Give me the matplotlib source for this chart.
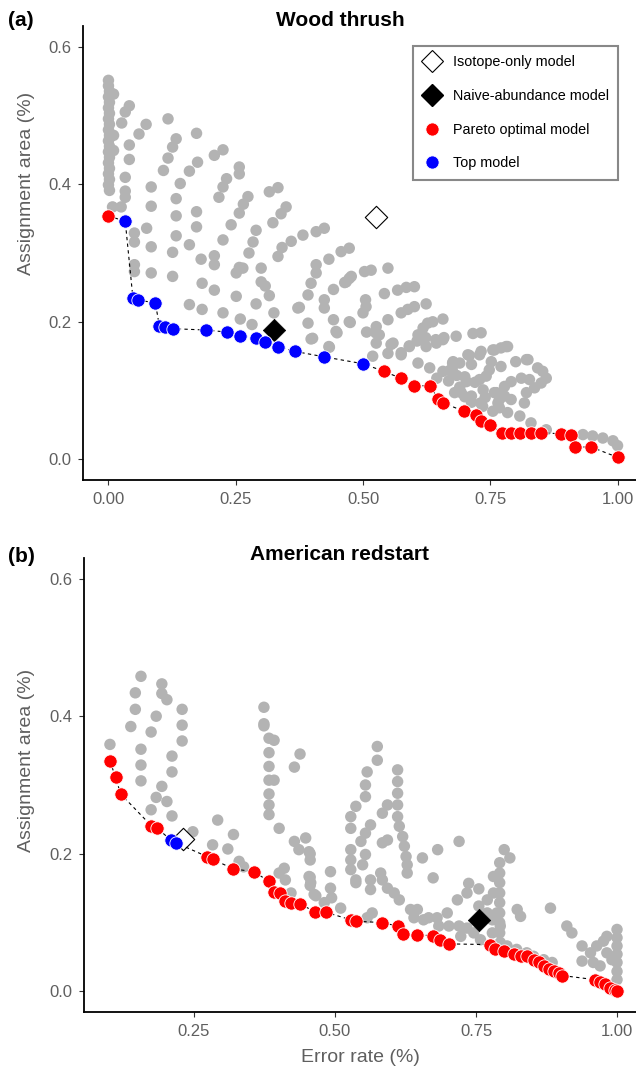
import matplotlib
matplotlib.use("Agg")
import matplotlib.pyplot as plt
from matplotlib.lines import Line2D
import numpy as np

plt.rcParams['font.family'] = ['Liberation Sans', 'DejaVu Sans']

# ---------------- Panel (a) Wood thrush ----------------
a_gray_x = [0.000,0.000,0.002,0.000,0.002,0.000,0.002,0.000,0.002,0.000,0.002,0.000,0.002,0.000,0.002,0.000,0.002,0.000,0.002,0.000,0.002,
    0.010,0.010,0.010,0.008,0.025,0.033,0.033,
    0.041,0.033,0.026,0.074,0.060,0.117,0.173,0.133,0.126,0.041,0.041,0.117,0.108,0.159,0.175,0.208,0.225,0.257,0.257,0.033,0.084,0.141,0.232,0.225,0.217,0.316,0.333,0.084,0.133,0.133,0.173,0.274,0.265,0.257,0.349,0.339,0.323,0.241,0.290,0.284,0.382,0.359,0.341,0.333,0.051,0.051,0.075,0.084,0.133,0.173,0.159,0.126,0.225,0.208,0.182,0.276,0.300,0.257,0.251,0.051,0.051,0.084,0.126,0.184,0.208,0.208,0.159,0.184,0.225,0.264,0.251,0.259,0.300,0.308,0.316,0.290,0.325,0.282,0.372,0.392,0.392,0.401,0.398,0.408,0.408,0.433,0.424,0.424,0.442,0.442,0.447,0.434,0.467,0.477,0.473,0.503,0.516,0.505,0.506,0.500,0.525,0.519,
    0.408,0.424,0.457,0.473,0.549,0.473,0.464,0.375,0.398,0.449,0.433,0.475,0.542,0.568,0.585,0.601,0.549,0.575,0.588,0.601,0.624,0.507,0.526,0.532,0.526,0.559,0.549,0.575,0.591,0.608,0.618,0.627,0.637,0.657,0.611,0.624,0.644,0.657,0.683,0.716,0.732,0.732,0.755,0.677,0.706,0.713,
    0.555,0.575,0.591,0.606,0.623,0.643,0.659,0.709,0.729,0.781,0.821,
    0.677,0.690,0.608,0.631,0.657,0.670,0.684,0.700,0.720,0.645,0.668,0.690,0.680,0.700,0.740,0.762,0.736,0.713,0.731,
    0.752,0.748,0.742,0.771,0.800,0.824,0.843,0.853,0.860,0.850,0.837,0.821,0.817,0.827,0.811,0.791,0.778,0.778,0.758,0.765,0.729,0.703,0.676,0.676,0.693,0.713,0.735,0.755,0.768,0.784,0.808,0.791,0.768,0.830,0.860,0.932,0.951,0.971,0.991,1.000,
    0.771,0.784,0.758]
a_gray_y = [0.551,0.543,0.535,0.527,0.519,0.511,0.503,0.495,0.487,0.479,0.471,0.463,0.455,0.447,0.439,0.431,0.423,0.415,0.407,0.399,0.391,
    0.531,0.471,0.449,0.367,0.367,0.381,0.390,
    0.514,0.505,0.489,0.487,0.473,0.495,0.474,0.466,0.454,0.457,0.436,0.438,0.420,0.419,0.432,0.442,0.450,0.425,0.415,0.410,0.396,0.401,0.408,0.396,0.381,0.389,0.395,0.368,0.379,0.354,0.360,0.382,0.371,0.358,0.367,0.357,0.344,0.341,0.333,0.316,0.326,0.317,0.308,0.295,0.329,0.316,0.336,0.309,0.325,0.338,0.312,0.301,0.319,0.296,0.291,0.300,0.278,0.279,0.271,0.283,0.273,0.271,0.266,0.256,0.246,0.283,0.225,0.218,0.213,0.278,0.237,0.204,0.258,0.252,0.238,0.226,0.213,0.196,0.220,0.239,0.198,0.176,0.256,0.271,0.283,0.291,0.232,0.220,0.247,0.203,0.186,0.163,0.258,0.266,0.200,0.273,0.275,0.232,0.222,0.213,0.184,0.150,
    0.331,0.336,0.302,0.307,0.278,0.263,0.257,0.221,0.175,0.184,0.164,0.199,0.241,0.246,0.250,0.251,0.203,0.213,0.218,0.222,0.226,0.185,0.193,0.181,0.169,0.169,0.154,0.152,0.164,0.181,0.191,0.198,0.200,0.204,0.174,0.164,0.169,0.174,0.179,0.183,0.184,0.157,0.159,0.142,0.152,0.138,
    0.167,0.155,0.165,0.172,0.177,0.174,0.177,0.151,0.152,0.164,0.145,
    0.137,0.140,0.140,0.133,0.128,0.129,0.122,0.120,0.112,0.118,0.114,0.105,0.097,0.091,0.090,0.097,0.101,0.083,0.082,
    0.142,0.130,0.121,0.135,0.142,0.145,0.133,0.128,0.118,0.111,0.104,0.097,0.082,0.116,0.118,0.113,0.106,0.092,0.097,0.082,0.116,0.113,0.140,0.128,0.097,0.092,0.077,0.070,0.075,0.068,0.063,0.087,0.087,0.053,0.043,0.036,0.034,0.031,0.027,0.020,
    0.162,0.164,0.159]

a_pareto_x = [0.000,0.541,0.574,0.601,0.631,0.648,0.658,0.698,0.722,0.732,0.750,0.773,0.791,0.808,0.830,0.849,0.889,0.909,0.916,0.948,1.000]
a_pareto_y = [0.354,0.128,0.118,0.107,0.107,0.088,0.082,0.070,0.064,0.056,0.050,0.039,0.039,0.039,0.039,0.039,0.037,0.036,0.018,0.018,0.003]
a_top_x = [0.033,0.048,0.059,0.092,0.100,0.112,0.126,0.192,0.233,0.259,0.290,0.308,0.333,0.366,0.424,0.500]
a_top_y = [0.346,0.235,0.231,0.228,0.194,0.192,0.190,0.188,0.185,0.180,0.176,0.171,0.164,0.157,0.149,0.139]
a_isotope = (0.525, 0.353)
a_naive = (0.326, 0.188)

# ---------------- Panel (b) American redstart ----------------
b_gray_x = [0.101,0.156,0.146,0.146,0.138,0.156,0.156,0.156,0.193,0.193,0.202,0.183,0.174,0.229,0.229,0.229,0.211,0.211,0.193,0.183,0.202,0.174,0.211,
    0.374,0.374,0.374,0.383,0.392,0.383,0.383,0.383,0.392,0.383,0.383,0.383,0.438,0.428,0.292,0.248,0.283,0.310,0.320,0.330,0.338,0.401,0.428,0.448,0.436,0.456,0.456,0.401,0.410,0.412,0.422,0.456,0.456,0.466,0.492,0.492,0.494,0.481,0.510,
    0.528,0.528,0.537,0.528,0.528,0.528,0.537,0.546,0.454,0.454,0.457,0.463,
    0.554,0.554,0.557,0.575,0.575,0.537,0.554,0.563,0.554,0.549,0.584,0.593,0.584,0.593,0.563,0.563,0.581,0.584,
    0.611,0.611,0.611,0.611,0.611,0.614,0.620,0.623,0.626,0.628,0.628,0.593,0.605,0.614,
    0.634,0.646,0.640,0.657,0.666,0.681,0.699,0.684,0.702,0.720,0.734,0.723,0.746,0.758,
    0.655,0.674,0.682,0.720,0.717,0.737,0.755,0.734,0.755,0.770,0.781,0.770,0.779,0.787,0.793,0.779,
    0.792,0.792,0.792,0.792,0.792,0.792,0.792,0.792,0.800,0.810,0.781,
    0.793,0.805,0.822,0.840,0.852,0.870,0.885,
    0.823,0.829,0.882,0.911,0.920,0.938,0.938,0.953,0.964,0.976,0.982,0.958,0.970,
    1.000,1.000,1.000,1.000,1.000,1.000,1.000,0.982,0.991,
    0.557,0.566]
b_gray_y = [0.359,0.458,0.434,0.410,0.385,0.352,0.329,0.306,0.447,0.433,0.424,0.400,0.377,0.410,0.387,0.364,0.342,0.319,0.298,0.282,0.276,0.264,0.255,
    0.413,0.389,0.386,0.368,0.365,0.347,0.327,0.307,0.307,0.287,0.271,0.257,0.345,0.326,0.249,0.232,0.213,0.207,0.228,0.189,0.181,0.237,0.218,0.223,0.206,0.200,0.191,0.172,0.179,0.162,0.143,0.166,0.154,0.139,0.174,0.150,0.136,0.129,0.121,
    0.254,0.237,0.269,0.206,0.191,0.177,0.162,0.218,0.203,0.167,0.158,0.141,
    0.283,0.300,0.319,0.356,0.336,0.158,0.230,0.242,0.199,0.184,0.259,0.271,0.216,0.220,0.162,0.148,0.172,0.162,
    0.322,0.305,0.288,0.271,0.254,0.240,0.225,0.211,0.196,0.184,0.172,0.150,0.143,0.133,
    0.119,0.119,0.107,0.104,0.107,0.107,0.114,0.095,0.095,0.095,0.092,0.080,0.085,0.075,
    0.194,0.165,0.206,0.218,0.133,0.157,0.149,0.143,0.124,0.133,0.143,0.114,0.104,0.114,0.095,0.085,
    0.187,0.172,0.158,0.143,0.129,0.114,0.100,0.085,0.206,0.194,0.167,
    0.071,0.066,0.061,0.056,0.051,0.046,0.042,
    0.119,0.109,0.121,0.095,0.085,0.066,0.044,0.056,0.066,0.073,0.080,0.042,0.037,
    0.090,0.078,0.066,0.054,0.042,0.029,0.017,0.056,0.046,
    0.107,0.114]

b_pareto_x = [0.101,0.111,0.120,0.174,0.185,0.273,0.283,0.320,0.356,0.383,0.392,0.403,0.411,0.422,0.438,0.464,0.484,0.528,0.537,0.583,0.611,0.621,0.646,0.674,0.687,0.702,0.774,0.784,0.799,0.817,0.829,0.841,0.852,0.861,0.870,0.879,0.888,0.897,0.903,0.961,0.970,0.979,0.988,0.997,1.000]
b_pareto_y = [0.335,0.311,0.287,0.241,0.237,0.196,0.192,0.178,0.174,0.160,0.145,0.143,0.131,0.129,0.127,0.116,0.115,0.104,0.102,0.100,0.095,0.084,0.082,0.081,0.074,0.069,0.068,0.062,0.058,0.054,0.052,0.051,0.046,0.042,0.037,0.033,0.029,0.026,0.023,0.017,0.013,0.010,0.005,0.002,0.000]
b_top_x = [0.209,0.218]
b_top_y = [0.220,0.216]
b_isotope = (0.230, 0.222)
b_naive = (0.756, 0.104)

x_ticks_a = [0.0, 0.25, 0.5, 0.75, 1.0]
x_ticklabels_a = ["0.00", "0.25", "0.50", "0.75", "1.00"]
x_ticks_b = [0.25, 0.5, 0.75, 1.0]
x_ticklabels_b = ["0.25", "0.50", "0.75", "1.00"]
y_ticks = [0.0, 0.2, 0.4, 0.6]
y_ticklabels = ["0.0", "0.2", "0.4", "0.6"]

GRAY = '#b3b3b3'
TXT = '#5f5f5f'

W, H = 636, 1077
fig = plt.figure(figsize=(W/100, H/100), dpi=100)

def px_axes(left, top, right, bottom):
    return fig.add_axes([left/W, 1-bottom/H, (right-left)/W, (bottom-top)/H])

ax_a = px_axes(83, 26, 643, 480)
ax_b = px_axes(84, 558, 642.4, 1012)

def draw(ax, gx, gy, px_, py_, tx, ty, iso, naive, xlim, xt, xtl):
    ax.scatter(gx, gy, s=68, c=GRAY, edgecolors='none', zorder=2)
    ax.scatter([iso[0]], [iso[1]], marker='D', s=130, facecolors='white',
               edgecolors='black', linewidths=0.8, zorder=3)
    ax.scatter([naive[0]], [naive[1]], marker='D', s=130, c='black',
               edgecolors='black', linewidths=0.5, zorder=3)
    fx = np.array(list(px_) + list(tx))
    fy = np.array(list(py_) + list(ty))
    order = np.argsort(fx, kind='stable')
    ax.plot(fx[order], fy[order], ls=(0, (3, 3)), color='black', lw=0.8, zorder=4)
    ax.scatter(px_, py_, s=92, c='#ff0000', edgecolors='white', linewidths=0.6, zorder=5)
    ax.scatter(tx, ty, s=92, c='#0000ff', edgecolors='white', linewidths=0.6, zorder=6)
    ax.set_xlim(*xlim)
    ax.set_ylim(-0.03, 0.63)
    ax.set_xticks(xt)
    ax.set_xticklabels(xtl)
    ax.set_yticks(y_ticks)
    ax.set_yticklabels(y_ticklabels)
    for s in ['top', 'right']:
        ax.spines[s].set_visible(False)
    for s in ['left', 'bottom']:
        ax.spines[s].set_linewidth(1.3)
        ax.spines[s].set_color('black')
    ax.tick_params(axis='both', length=3.5, width=0.8, color='#333333',
                   labelsize=12, labelcolor=TXT, pad=5)
    ax.set_facecolor('none')

draw(ax_a, a_gray_x, a_gray_y, a_pareto_x, a_pareto_y, a_top_x, a_top_y,
     a_isotope, a_naive, (-0.05, 1.05), x_ticks_a, x_ticklabels_a)
draw(ax_b, b_gray_x, b_gray_y, b_pareto_x, b_pareto_y, b_top_x, b_top_y,
     b_isotope, b_naive, (0.055, 1.045), x_ticks_b, x_ticklabels_b)

# titles and panel letters
fig.text(8/W, 1-20/H, "(a)", fontsize=15, fontweight='bold', va='center', ha='left')
fig.text(340/W, 1-20/H, "Wood thrush", fontsize=15, fontweight='bold', va='center', ha='center')
fig.text(8/W, 1-557/H, "(b)", fontsize=15, fontweight='bold', va='center', ha='left')
fig.text(340/W, 1-555/H, "American redstart", fontsize=15, fontweight='bold', va='center', ha='center')

# axis labels
fig.text(27/W, 1-183/H, "Assignment area (%)", fontsize=14, color=TXT,
         rotation=90, va='center', ha='center')
fig.text(27/W, 1-760/H, "Assignment area (%)", fontsize=14, color=TXT,
         rotation=90, va='center', ha='center')
fig.text(360/W, 1-1058/H, "Error rate (%)", fontsize=14, color=TXT,
         va='center', ha='center')

# legend
handles = [
    Line2D([], [], ls='none', marker='D', markersize=11.5, markerfacecolor='white',
           markeredgecolor='black', markeredgewidth=0.8),
    Line2D([], [], ls='none', marker='D', markersize=11.5, markerfacecolor='black',
           markeredgecolor='black'),
    Line2D([], [], ls='none', marker='o', markersize=9.5, markerfacecolor='#ff0000',
           markeredgecolor='white', markeredgewidth=0.6),
    Line2D([], [], ls='none', marker='o', markersize=9.5, markerfacecolor='#0000ff',
           markeredgecolor='white', markeredgewidth=0.6),
]
labels = ["Isotope-only model", "Naive-abundance model", "Pareto optimal model", "Top model"]
leg = fig.legend(handles, labels, loc='upper left', bbox_to_anchor=(413/W, 1-46/H),
                 fontsize=10.4, frameon=True, fancybox=False, labelspacing=1.36,
                 handlelength=1.3, handletextpad=0.8, borderpad=0.65, borderaxespad=0)
leg.get_frame().set_edgecolor('#6a6a6a')
leg.get_frame().set_linewidth(1.5)

fig.savefig("out.png", dpi=100)
